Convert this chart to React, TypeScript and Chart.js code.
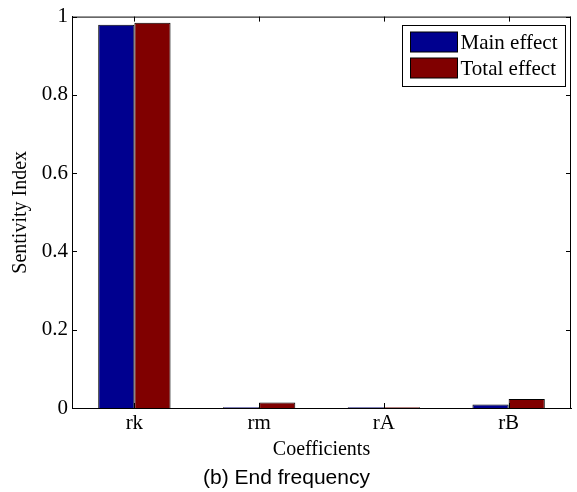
import React, { useEffect, useRef } from "react";
import { Chart, registerables } from "chart.js";

Chart.register(...registerables);

// Sensitivity indices per coefficient
const categories = ["rk", "rm", "rA", "rB"];
const mainEffect = [0.979, 0.002, 0.002, 0.009];
const totalEffect = [0.984, 0.014, 0.002, 0.023];
const yTicks = [0, 0.2, 0.4, 0.6, 0.8, 1];
const seriesNames = ["Main effect", "Total effect"];
const seriesColors = ["#00008F", "#800000"];
const xTitle = "Coefficients";
const yTitle = "Sentivity Index";
const caption = "(b) End frequency";

const W = 577;
const H = 492;
const SERIF = "'Liberation Serif', 'Times New Roman', serif";

const fmtTick = (v: number) => (v === 0 ? "0" : v === 1 ? "1" : v.toFixed(1));

// Boxed axes with inward ticks, boxed legend and a caption under the figure
const framePlugin = {
  id: "frame",
  afterDatasetsDraw(chart: any) {
    const { ctx, chartArea: a, scales } = chart;
    const ys = scales.y;
    const xs = scales.x;
    ctx.save();
    ctx.strokeStyle = "#000";
    ctx.lineWidth = 1;
    // top and right edges
    ctx.beginPath();
    ctx.moveTo(a.left, a.top + 0.5);
    ctx.lineTo(a.right, a.top + 0.5);
    ctx.moveTo(a.right - 0.5, a.top);
    ctx.lineTo(a.right - 0.5, a.bottom);
    ctx.stroke();
    // inward ticks
    const tl = 5;
    ctx.beginPath();
    yTicks.forEach((v) => {
      const y = Math.round(ys.getPixelForValue(v)) + 0.5;
      ctx.moveTo(a.left, y);
      ctx.lineTo(a.left + tl, y);
      ctx.moveTo(a.right, y);
      ctx.lineTo(a.right - tl, y);
    });
    categories.forEach((_, i) => {
      const x = Math.round(xs.getPixelForValue(i)) + 0.5;
      ctx.moveTo(x, a.bottom);
      ctx.lineTo(x, a.bottom - tl);
      ctx.moveTo(x, a.top);
      ctx.lineTo(x, a.top + tl);
    });
    ctx.stroke();

    // legend
    ctx.font = `21px ${SERIF}`;
    const tw = Math.max(...seriesNames.map((n) => ctx.measureText(n).width));
    const swW = 47;
    const swH = 20;
    const rowH = 26;
    const padL = 8;
    const gap = 3;
    const boxW = padL + swW + gap + tw + 8;
    const boxH = 7 + rowH * seriesNames.length + 2;
    const bx = Math.round(a.right - 6 - boxW) + 0.5;
    const by = Math.round(a.top + 8) + 0.5;
    ctx.fillStyle = "#fff";
    ctx.fillRect(bx, by, boxW, boxH);
    ctx.strokeRect(bx, by, boxW, boxH);
    seriesNames.forEach((name, i) => {
      const sy = by + 6.5 + i * rowH;
      ctx.fillStyle = seriesColors[i];
      ctx.fillRect(bx + padL, sy, swW, swH);
      ctx.strokeRect(bx + padL, sy, swW, swH);
      ctx.fillStyle = "#000";
      ctx.textBaseline = "middle";
      ctx.textAlign = "left";
      ctx.fillText(name, bx + padL + swW + gap, sy + swH / 2 + 1);
    });

    // caption
    ctx.font = "21px 'Liberation Sans', Arial, sans-serif";
    ctx.textAlign = "center";
    ctx.textBaseline = "middle";
    ctx.fillStyle = "#000";
    ctx.fillText(caption, W / 2 - 2, 478);
    ctx.restore();
  },
};

export default function App() {
  const ref = useRef<HTMLCanvasElement | null>(null);

  useEffect(() => {
    if (!ref.current) return;
    const chart = new Chart(ref.current, {
      type: "bar",
      data: {
        labels: categories,
        datasets: [
          {
            label: seriesNames[0],
            data: mainEffect,
            backgroundColor: seriesColors[0],
            borderColor: "#000",
            borderWidth: 1,
          },
          {
            label: seriesNames[1],
            data: totalEffect,
            backgroundColor: seriesColors[1],
            borderColor: "#000",
            borderWidth: 1,
          },
        ],
      },
      options: {
        responsive: false,
        animation: false,
        layout: { padding: { top: 16, right: 6, left: 0, bottom: 28 } },
        datasets: {
          bar: { categoryPercentage: 0.58, barPercentage: 1 },
        },
        plugins: {
          legend: { display: false },
          tooltip: { enabled: false },
          title: { display: false },
        },
        scales: {
          x: {
            grid: { display: false, drawTicks: false },
            border: { display: true, color: "#000", width: 1 },
            ticks: {
              color: "#000",
              padding: 3,
              font: { family: SERIF, size: 21 },
            },
            title: {
              display: true,
              text: xTitle,
              color: "#000",
              font: { family: SERIF, size: 20 },
              padding: { top: 0, bottom: 2 },
            },
            afterFit(scale: any) {
              scale.height = 56;
            },
          },
          y: {
            min: 0,
            max: 1,
            grid: { display: false, drawTicks: false },
            border: { display: true, color: "#000", width: 1 },
            afterBuildTicks(scale: any) {
              scale.ticks = yTicks.map((v) => ({ value: v }));
            },
            ticks: {
              color: "#000",
              padding: 4,
              font: { family: SERIF, size: 21 },
              callback: (v: any) => fmtTick(Number(v)),
            },
            title: {
              display: true,
              text: yTitle,
              color: "#000",
              font: { family: SERIF, size: 20 },
              padding: { top: 9, bottom: 0 },
            },
            afterFit(scale: any) {
              scale.width = 72;
            },
          },
        },
      },
      plugins: [framePlugin],
    });
    return () => chart.destroy();
  }, []);

  return (
    <div style={{ position: "absolute", left: 0, top: 0, width: W, height: H, background: "#fff" }}>
      <canvas ref={ref} width={W} height={H} style={{ display: "block" }} />
    </div>
  );
}
